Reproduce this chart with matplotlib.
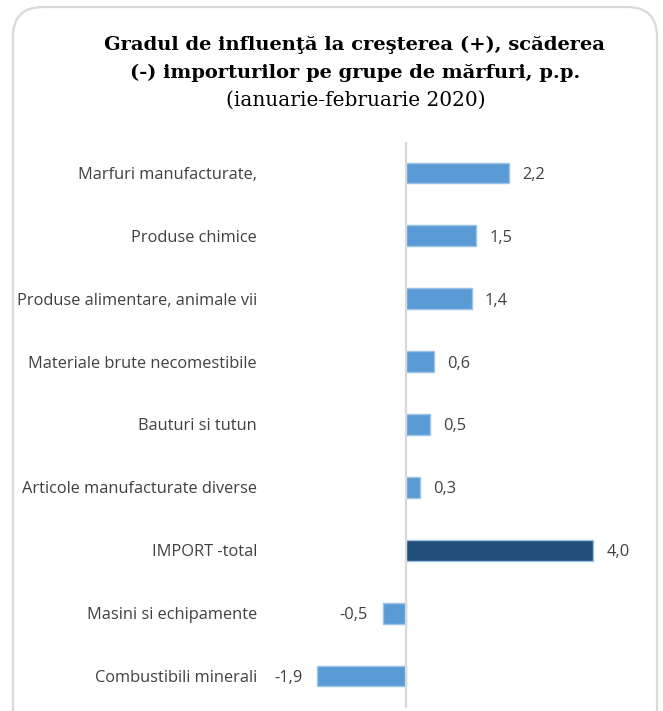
import matplotlib
matplotlib.use("Agg")
import matplotlib.pyplot as plt
from matplotlib.patches import FancyBboxPatch
from matplotlib.transforms import blended_transform_factory

categories = [
    "Marfuri manufacturate,",
    "Produse chimice",
    "Produse alimentare, animale vii",
    "Materiale brute necomestibile",
    "Bauturi si tutun",
    "Articole manufacturate diverse",
    "IMPORT -total",
    "Masini si echipamente",
    "Combustibili minerali",
]
values = [2.2, 1.5, 1.4, 0.6, 0.5, 0.3, 4.0, -0.5, -1.9]
value_labels = ["2,2", "1,5", "1,4", "0,6", "0,5", "0,3", "4,0", "-0,5", "-1,9"]
highlight = "IMPORT -total"

W, H = 663, 711
fig = plt.figure(figsize=(W / 100, H / 100), dpi=100)
fig.patch.set_facecolor("white")

# rounded frame
frame = FancyBboxPatch((13 / W, -30 / H), (657 - 13) / W, (711 - 7 + 30) / H,
                       boxstyle="round,pad=0,rounding_size=0.045",
                       transform=fig.transFigure, facecolor="none",
                       edgecolor="#D9D9D9", linewidth=1.6, mutation_aspect=W / H)
fig.patches.append(frame)

left, right = 266, 640
top, bottom = 141.5, 707.5
ax = fig.add_axes([left / W, 1 - bottom / H, (right - left) / W, (bottom - top) / H])

y = list(range(len(categories)))
colors = ["#1F4E79" if c == highlight else "#5B9BD5" for c in categories]
ax.barh(y, values, height=0.33, color=colors, edgecolor="#9DC3E6", linewidth=1.0, zorder=2)
ax.set_xlim(-3, 5)
ax.set_ylim(len(categories) - 0.5, -0.5)
ax.axvline(0, color="#D9D9D9", linewidth=1.6, zorder=3)
for s in ax.spines.values():
    s.set_visible(False)
ax.set_xticks([])
ax.set_yticks([])

font = "Open Sans"
fs = 11.8
txtcol = "#404040"
for yi, v, lab in zip(y, values, value_labels):
    if v >= 0:
        ax.annotate(lab, (v, yi), xytext=(9.5, 0), textcoords="offset points",
                    ha="left", va="center_baseline", fontsize=fs, color=txtcol, family=font)
    else:
        ax.annotate(lab, (v, yi), xytext=(-11, 0), textcoords="offset points",
                    ha="right", va="center_baseline", fontsize=fs, color=txtcol, family=font)

trans = blended_transform_factory(ax.transAxes, ax.transData)
for yi, c in zip(y, categories):
    ax.annotate(c, (0, yi), xycoords=trans, xytext=(-6.5, 0), textcoords="offset points",
                ha="right", va="center_baseline", fontsize=fs, color=txtcol, family=font)

fig.text(355 / W, 1 - 45 / H, "Gradul de influenţă la creşterea (+), scăderea",
         ha="center", va="center", fontsize=14, fontweight="bold", family="DejaVu Serif")
fig.text(355 / W, 1 - 73 / H, "(-) importurilor pe grupe de mărfuri, p.p.",
         ha="center", va="center", fontsize=14, fontweight="bold", family="DejaVu Serif")
fig.text(356 / W, 1 - 100 / H, "(ianuarie-februarie 2020)",
         ha="center", va="center", fontsize=14.5, family="DejaVu Serif")

fig.savefig("out.png", dpi=100, facecolor="white")
